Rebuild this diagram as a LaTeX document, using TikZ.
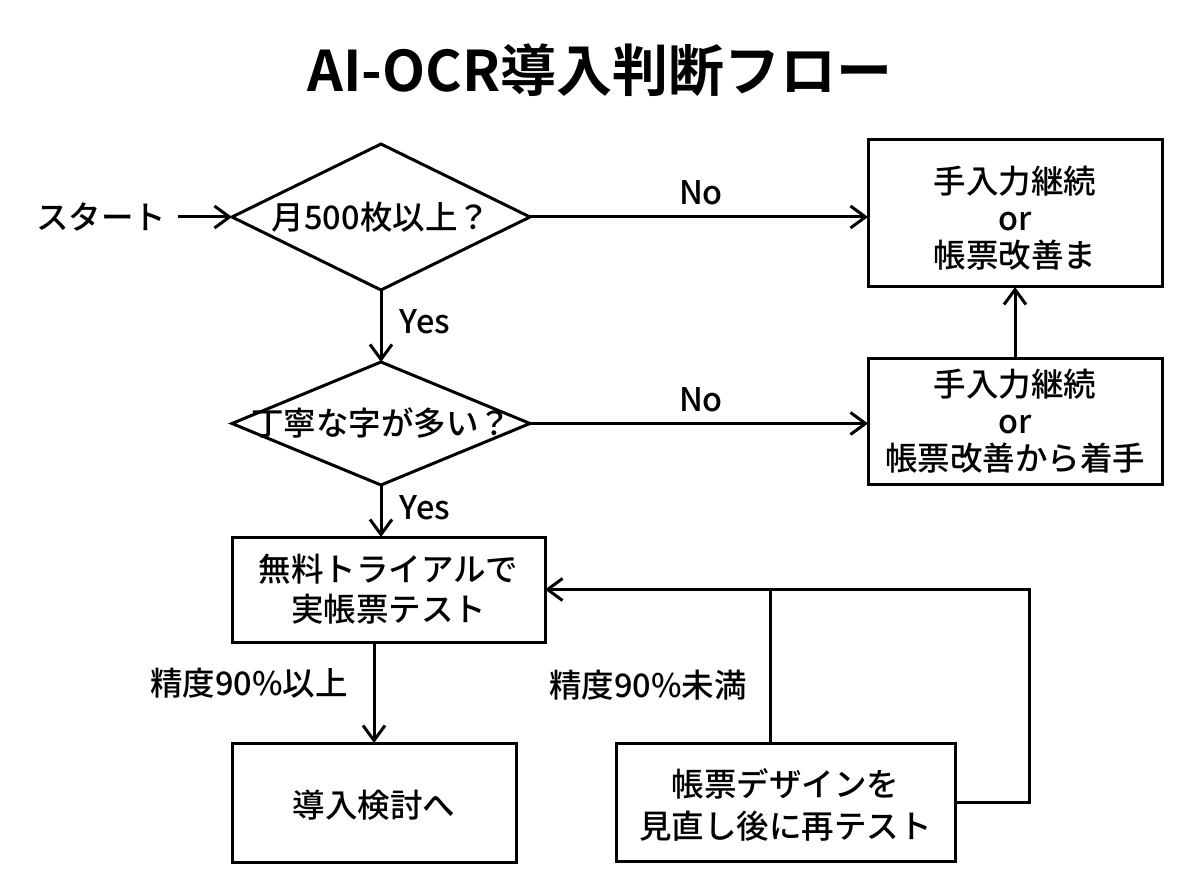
\documentclass[tikz,border=0pt]{standalone}
\usepackage{fontspec}
\setmainfont{Noto Sans CJK JP}[UprightFont={Noto Sans CJK JP Medium},BoldFont={Noto Sans CJK JP Bold}]
\usetikzlibrary{arrows.meta,shapes.geometric}
\begin{document}
\begin{tikzpicture}[x=1pt,y=-1pt,
  every node/.style={font=\fontsize{32.5}{37}\selectfont},
  boxnode/.style={draw,line width=3pt,rectangle,inner sep=0pt,outer sep=0pt,align=center},
  decision/.style={draw,line width=3pt,diamond,inner sep=0pt,outer sep=0pt,minimum width=298pt},
  lbl/.style={inner sep=0pt},
  flow/.style={line width=3pt,-{Straight Barb[length=15pt,width=22pt,line width=3pt]}},
  plain/.style={line width=3pt}]
\useasboundingbox (0,0) rectangle (1200,896);
\node[font=\fontsize{56}{60}\selectfont\bfseries] (title) at (600,70) {AI-OCR導入判断フロー};
\node[lbl] (start) at (101,217) {スタート};
\node[decision,minimum height=146pt,label={center:月500枚以上？}] (d1) at (381,217) {};
\node[decision,minimum height=123pt,label={center:丁寧な字が多い？}] (d2) at (381,423.5) {};
\node[boxnode,minimum width=294pt,minimum height=147pt,label={[align=center,yshift=-5pt]center:手入力継続\\[0pt]or\\[0pt]帳票改善ま}] (b1) at (1015,213.5) {};
\node[boxnode,minimum width=294pt,minimum height=126pt] (b2) at (1015,421) {手入力継続\\[0pt]or\\[0pt]帳票改善から着手};
\node[boxnode,minimum width=313pt,minimum height=105pt] (b3) at (388.5,589.5) {無料トライアルで\\[3pt]実帳票テスト};
\node[boxnode,minimum width=284pt,minimum height=119pt,label={[yshift=-3pt]center:導入検討へ}] (b4) at (374,802.5) {};
\node[boxnode,minimum width=339pt,minimum height=118pt,label={[align=center,yshift=-3pt]center:帳票デザインを\\[5pt]見直し後に再テスト}] (b5) at (785.5,802) {};
\node[lbl] (no1) at (701,193) {No};
\node[lbl] (no2) at (701,400) {No};
\node[lbl] (yes1) at (425,322) {Yes};
\node[lbl] (yes2) at (425,508) {Yes};
\node[lbl] (ok) at (249,683) {精度90\%以上};
\node[lbl] (ng) at (648,685) {精度90\%未満};
\coordinate (j) at (770,589.5);
\coordinate (r) at (1029,589.5);
\draw[flow] (start.east) ++(12,0) -- (d1.west);
\draw[flow] (d1.east) -- (d1.east -| b1.west);
\draw[flow] (d2.east) -- (d2.east -| b2.west);
\draw[flow] (b2.north) -- (b1.south);
\draw[flow] (d1.south) -- (d2.north);
\draw[flow] (d2.south) -- (d2.south |- b3.north);
\draw[flow] (b4.north |- b3.south) -- (b4.north);
\draw[plain] (j |- b5.north) -- (j);
\draw[plain] (b5.east) -| (r) -- (j);
\draw[flow] (j) -- (b3.east);
\end{tikzpicture}
\end{document}
